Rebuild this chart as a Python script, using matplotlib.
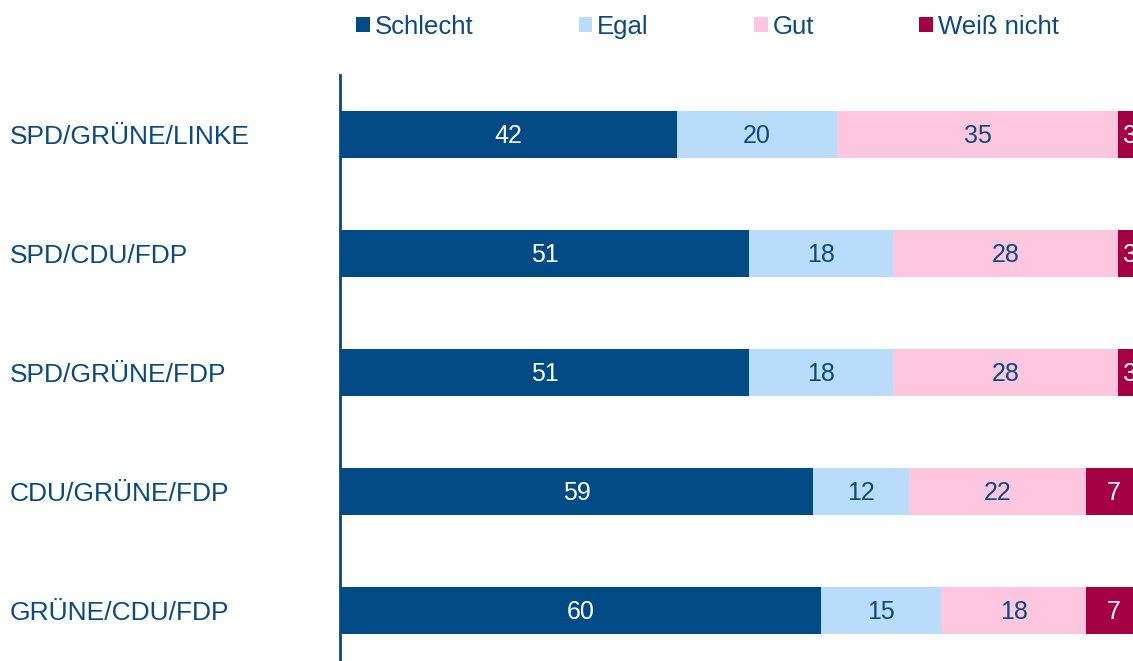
import matplotlib.pyplot as plt
import numpy as np

plt.rcParams["font.family"] = ["Liberation Sans", "DejaVu Sans"]

coalitions = ["SPD/GRÜNE/LINKE", "SPD/CDU/FDP", "SPD/GRÜNE/FDP", "CDU/GRÜNE/FDP", "GRÜNE/CDU/FDP"]
series_names = ["Schlecht", "Egal", "Gut", "Weiß nicht"]
schlecht = [42, 51, 51, 59, 60]
egal = [20, 18, 18, 12, 15]
gut = [35, 28, 28, 22, 18]
weiss_nicht = [3, 3, 3, 7, 7]

colors = ["#004a85", "#b8dcfa", "#ffc7df", "#a50044"]
label_colors = ["white", "#0a4a80", "#0a4a80", "white"]
text_blue = "#0a4a80"

W, H = 1133, 661
fig = plt.figure(figsize=(W / 100, H / 100), dpi=100)
# axes spans 0..100, extending slightly past the right/bottom edge like the source
ax = fig.add_axes([340 / W, (H - 670) / H, 802 / W, 595 / H])

y = np.arange(len(coalitions))
left = np.zeros(len(coalitions))
for name, vals, col, lcol in zip(series_names, [schlecht, egal, gut, weiss_nicht], colors, label_colors):
    vals = np.asarray(vals, dtype=float)
    ax.barh(y, vals, left=left, height=0.4, color=col, label=name)
    for yi, l, v in zip(y, left, vals):
        ax.text(l + v / 2, yi + 0.01, f"{v:g}", ha="center", va="center", fontsize=18, color=lcol)
    left += vals

ax.set_xlim(0, 100)
ax.set_ylim(len(coalitions) - 0.5, -0.5)
ax.set_yticks(y)
ax.set_yticklabels(coalitions, fontsize=19, color=text_blue)
for lab in ax.get_yticklabels():
    lab.set_horizontalalignment("left")
# pad in points: label starts ~10 px from the left edge
ax.tick_params(axis="y", length=0, pad=(340 - 10) * 0.72)
ax.set_xticks([])
for side in ["top", "right", "bottom"]:
    ax.spines[side].set_visible(False)
ax.spines["left"].set_color("#004a85")
ax.spines["left"].set_linewidth(2)

leg = fig.legend(
    loc="center left",
    bbox_to_anchor=(346 / W, 1 - 27 / H),
    ncol=4,
    frameon=False,
    fontsize=18.5,
    handlelength=0.52,
    handleheight=0.52,
    handletextpad=0.2,
    columnspacing=4.1,
    borderaxespad=0,
)
for t in leg.get_texts():
    t.set_color(text_blue)

fig.savefig("out.png", dpi=100)
